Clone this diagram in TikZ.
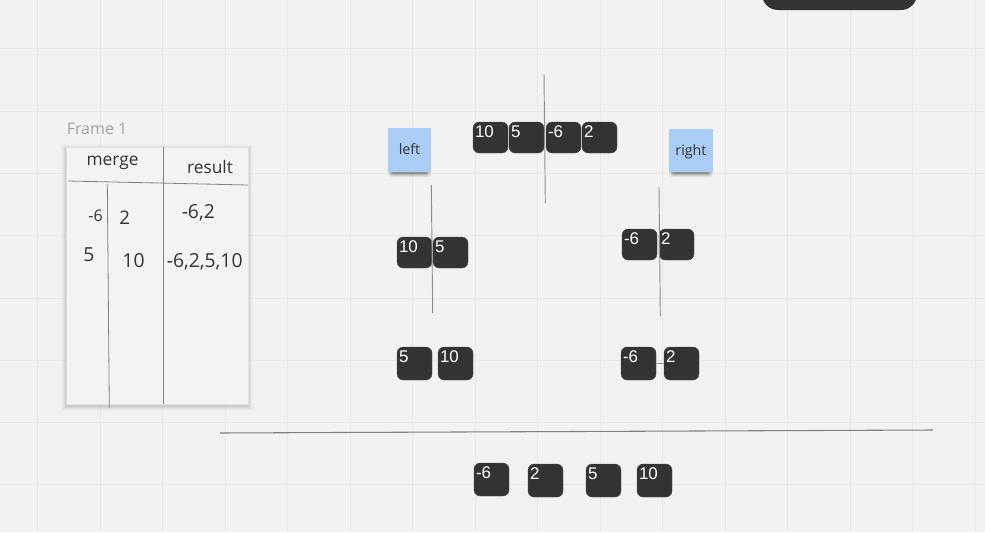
\documentclass[tikz,border=0pt]{standalone}
\usepackage{fontspec}
\setmainfont{Open Sans}
\newfontfamily\arialf{Liberation Sans}
\definecolor{bgc}{HTML}{F2F2F2}
\definecolor{gridc}{HTML}{E8E8E8}
\definecolor{boxc}{HTML}{333333}
\definecolor{stickc}{HTML}{AACDF5}
\definecolor{linec}{HTML}{8E8E8E}
\definecolor{txtc}{HTML}{333333}
\definecolor{framelab}{HTML}{A3A3A3}
\definecolor{framefill}{HTML}{F3F3F3}
\newcommand\numbx[5]{%
  \node[nbox, minimum height=#4*0.75pt] (#1) at (#2+17.5,#3+#4/2) {};
  \node[ntxt] (#1t) at ([shift={(2,16)}]#1.north west) {#5};}
\newcommand\stickshadow[3]{% left, right, bottom
  \foreach \s/\o in {3/0.06,2/0.08,1/0.12,0/0.18}
    \fill[black,opacity=\o,rounded corners=2pt] (#1+3-\s,#3-6) rectangle (#2-3+\s,#3+2+\s);}
\begin{document}
\begin{tikzpicture}[x=0.75pt,y=-0.75pt,
  nbox/.style={rectangle, rounded corners=4.5pt, fill=boxc, draw=boxc!85!white, line width=0.3pt, minimum width=26.25pt, inner sep=0},
  ntxt/.style={anchor=base west, inner sep=0, text=white, font=\arialf\fontsize{12.7}{12.7}\selectfont},
  seg/.style={draw=linec, line width=0.7pt},
  tabline/.style={draw=linec!90!black, line width=0.6pt},
  tabtxt/.style={anchor=base, inner sep=0, text=txtc},
  sticky/.style={rectangle, fill=stickc, minimum width=32.25pt, minimum height=33pt, inner sep=0, text height=7pt, text depth=0pt, text=txtc, font=\fontsize{10.7}{10.7}\selectfont}
]
\useasboundingbox (0,0) rectangle (985,532);
\clip (0,0) rectangle (985,532);
\fill[bgc] (0,0) rectangle (985,532);
\foreach \i in {0,...,15} \draw[gridc, line width=0.75pt] (37.5+62.5*\i,0) -- (37.5+62.5*\i,532);
\foreach \j in {0,...,7} \draw[gridc, line width=0.75pt] (0,48.8+62.3*\j) -- (985,48.8+62.3*\j);

% top-right pill
\node[rectangle, rounded corners=12pt, fill=boxc, minimum width=116.25pt, minimum height=37.5pt] (pill) at (839.5,-15) {};

% Frame 1
\node[anchor=base west, inner sep=0, text=framelab, font=\fontsize{12}{12}\selectfont] (framelabel) at (66.5,134) {Frame 1};
\foreach \s/\o in {5/0.015,4/0.02,3/0.03,2/0.04,1/0.05}
  \fill[black,opacity=\o] (66-\s,147-\s+1.5) rectangle (248+\s,404+\s+1.5);
\node[rectangle, fill=framefill, draw=black!12, line width=0.3pt, minimum width=136.5pt, minimum height=192.75pt, inner sep=0] (frame1) at (157,275.5) {};
\draw[tabline] (68,181) -- (248,185);
\draw[tabline] (163,147) -- (163,404);
\draw[tabline] (107.3,184) -- (109.3,408);
\node[tabtxt, font=\fontsize{13}{13}\selectfont] (hmerge) at (112.5,165) {merge};
\node[tabtxt, font=\fontsize{13}{13}\selectfont] (hresult) at (210,173) {result};
\node[tabtxt, font=\fontsize{12}{12}\selectfont] (m1a) at (95.5,221) {-6};
\node[tabtxt, font=\fontsize{14}{14}\selectfont] (m1b) at (124.7,224.3) {2};
\node[tabtxt, font=\fontsize{14.5}{14.5}\selectfont] (r1) at (198.3,218.3) {-6,2};
\node[tabtxt, font=\fontsize{14.5}{14.5}\selectfont] (m2a) at (88.8,261.7) {5};
\node[tabtxt, font=\fontsize{14.5}{14.5}\selectfont] (m2b) at (133.5,267.3) {10};
\node[tabtxt, font=\fontsize{14.5}{14.5}\selectfont] (r2) at (204.7,267.3) {-6,2,5,10};

% sticky notes
\stickshadow{388}{431}{172}
\node[sticky] (left) at (409.5,150) {left};
\stickshadow{669}{713}{172}
\node[sticky, minimum width=33pt, minimum height=32.25pt] (right) at (691,150.5) {right};

% number boxes
\numbx{t1}{473}{122}{31}{10}
\numbx{t2}{509}{122}{31}{5}
\numbx{t3}{546}{122}{31}{-6}
\numbx{t4}{582}{122}{31}{2}
\numbx{a1}{397}{237}{31}{10}
\numbx{a2}{433}{237}{31}{5}
\numbx{b1}{622}{229}{31}{-6}
\numbx{b2}{659}{229}{31}{2}
\numbx{c1}{397}{347}{33}{5}
\numbx{c2}{438}{347}{33}{10}
\numbx{d1}{621}{347}{33}{-6}
\numbx{d2}{664}{347}{33}{2}
\numbx{e1}{474}{463}{33}{-6}
\numbx{e2}{528}{464}{33}{2}
\numbx{e3}{586}{464}{33}{5}
\numbx{e4}{637}{464}{33}{10}

% split lines
\coordinate (s0a) at (544,74);   \coordinate (s0b) at (545.3,203);
\coordinate (s1a) at (431.3,185); \coordinate (s1b) at (432.7,313);
\coordinate (s2a) at (659,187);  \coordinate (s2b) at (660.3,316);
\coordinate (h1) at (220,433);   \coordinate (h2) at (933,430);
\draw[seg] (s0a) -- (s0b);
\draw[seg] (s1a) -- (s1b);
\draw[seg] (s2a) -- (s2b);
\draw[seg, line width=0.8pt, draw=linec!90!black] (h1) -- (h2);
\draw[seg] (d1.east) -- (d2.west);
\end{tikzpicture}
\end{document}
